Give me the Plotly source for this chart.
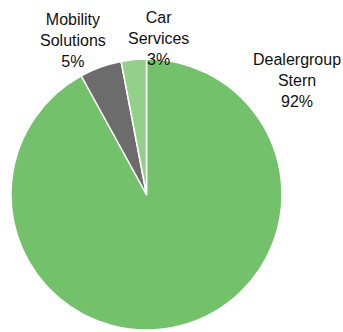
import plotly.graph_objects as go

labels = ["Dealergroup<br>Stern", "Mobility<br>Solutions", "Car<br>Services"]
values = [92, 5, 3]
colors = ["#74c16b", "#6c6c6c", "#93d18a"]

# label anchor positions (paper coords)
label_pos = [(0.866, 0.759), (0.213, 0.8795), (0.461, 0.8855)]

fig = go.Figure(go.Pie(
    labels=labels,
    values=values,
    sort=False,
    direction="clockwise",
    rotation=0,
    textinfo="none",
    hoverinfo="label+percent",
    marker=dict(colors=colors, line=dict(color="white", width=1.5)),
    domain=dict(x=[11/343, 282/343], y=[2/332, 273/332]),
    showlegend=False,
))

total = sum(values)
for lab, val, (px, py) in zip(labels, values, label_pos):
    fig.add_annotation(
        x=px, y=py, xref="paper", yref="paper",
        text=f"{lab}<br>{round(100*val/total)}%",
        showarrow=False, xanchor="center", yanchor="middle",
        font=dict(family="Liberation Sans, Arial, sans-serif", size=16, color="#111111"),
    )

fig.update_layout(
    width=343, height=332,
    margin=dict(l=0, r=0, t=0, b=0),
    paper_bgcolor="white", plot_bgcolor="white",
)

fig.write_html("out.html")
